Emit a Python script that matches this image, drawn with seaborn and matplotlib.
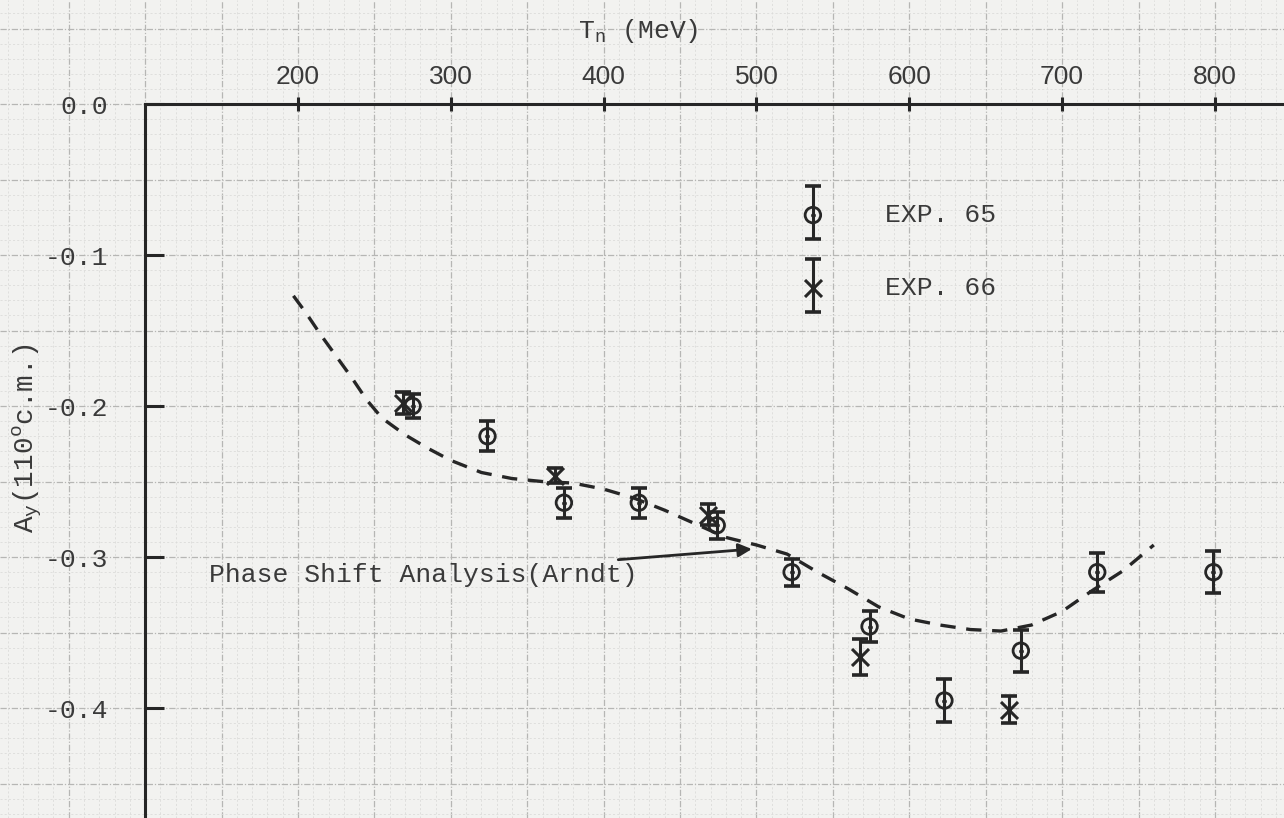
import matplotlib
matplotlib.use("Agg")
import matplotlib.pyplot as plt
import seaborn as sns
from matplotlib.ticker import MultipleLocator
from matplotlib.container import ErrorbarContainer
from matplotlib.legend_handler import HandlerErrorbar

# ---------------- data ----------------
exp65_T = [275, 324, 374, 423, 474, 523, 574, 623, 673, 723, 799]
exp65_A = [-0.200, -0.220, -0.264, -0.264, -0.279, -0.310, -0.346, -0.395, -0.362, -0.310, -0.310]
exp65_err = [0.008, 0.010, 0.010, 0.010, 0.009, 0.009, 0.010, 0.014, 0.014, 0.013, 0.014]

exp66_T = [269, 368, 468, 568, 665]
exp66_A = [-0.198, -0.246, -0.272, -0.366, -0.401]
exp66_err = [0.007, 0.005, 0.007, 0.012, 0.009]

curve_T = [197, 205, 215, 225, 235, 245, 255, 270, 285, 300, 320, 340, 360, 380,
           400, 420, 440, 460, 480, 500, 520, 540, 560, 580, 600, 620, 640, 660,
           680, 700, 720, 740, 760]
curve_A = [-0.127, -0.138, -0.153, -0.167, -0.181, -0.196, -0.208, -0.219, -0.228,
           -0.236, -0.244, -0.248, -0.250, -0.251, -0.255, -0.261, -0.269, -0.278,
           -0.287, -0.292, -0.298, -0.310, -0.321, -0.333, -0.341, -0.345, -0.348,
           -0.349, -0.345, -0.336, -0.322, -0.309, -0.292]

x_ticks = [200, 300, 400, 500, 600, 700, 800]
x_tick_labels = ["200", "300", "400", "500", "600", "700", "800"]
y_ticks = [0.0, -0.1, -0.2, -0.3, -0.4]
y_tick_labels = ["0.0", "-0.1", "-0.2", "-0.3", "-0.4"]
legend_labels = ["EXP. 65", "EXP. 66"]
curve_label = "Phase Shift Analysis(Arndt)"

# ---------------- style ----------------
sns.set_theme(style="white")
plt.rcParams['font.family'] = ['Liberation Mono', 'DejaVu Sans']
plt.rcParams['mathtext.fontset'] = 'custom'
plt.rcParams['mathtext.rm'] = 'Liberation Mono'
plt.rcParams['mathtext.it'] = 'Liberation Mono'
plt.rcParams['axes.unicode_minus'] = False

INK = '#262626'
TEXT = '#3a3a3a'
PAPER = '#f2f2f0'

XLIM = (5.0, 845.2)
YLIM = (-0.4728, 0.0689)

fig = plt.figure(figsize=(12.84, 8.18), dpi=100)
fig.patch.set_facecolor(PAPER)

# graph-paper background
paper = fig.add_axes([0, 0, 1, 1])
paper.set_xlim(XLIM)
paper.set_ylim(YLIM)
paper.set_facecolor(PAPER)
paper.xaxis.set_major_locator(MultipleLocator(50))
paper.xaxis.set_minor_locator(MultipleLocator(10))
paper.yaxis.set_major_locator(MultipleLocator(0.05))
paper.yaxis.set_minor_locator(MultipleLocator(0.01))
paper.grid(which='minor', color='#dcdcda', lw=0.6, ls=(0, (2.5, 2.5)))
paper.grid(which='major', color='#b6b6b4', lw=0.9, ls=(0, (5, 1.5, 1, 1.5)))
paper.tick_params(which='both', length=0, labelbottom=False, labelleft=False)
for s in paper.spines.values():
    s.set_visible(False)

# main axes
ax = fig.add_axes([0, 0, 1, 1])
ax.patch.set_alpha(0)

# dashed phase-shift curve
sns.lineplot(x=curve_T, y=curve_A, ax=ax, color=INK, lw=2.4,
             linestyle=(0, (4.6, 3.2)), estimator=None, sort=True)

# error bars
eb65 = ax.errorbar(exp65_T, exp65_A, yerr=exp65_err, fmt='none', ecolor=INK,
                   elinewidth=2.2, capsize=6, capthick=2.6)
eb66 = ax.errorbar(exp66_T, exp66_A, yerr=exp66_err, fmt='none', ecolor=INK,
                   elinewidth=2.2, capsize=6, capthick=2.6)

# markers
sns.scatterplot(x=exp65_T, y=exp65_A, ax=ax, marker='o', s=125,
                facecolor='none', edgecolor=INK, linewidth=2.0, zorder=3)
sc65 = ax.collections[-1]
sns.scatterplot(x=exp65_T, y=exp65_A, ax=ax, marker='o', s=8,
                color=INK, edgecolor=INK, linewidth=0.5, zorder=3)
sc65d = ax.collections[-1]
sns.scatterplot(x=exp66_T, y=exp66_A, ax=ax, marker='x', s=150,
                color=INK, linewidth=2.2, zorder=3)
sc66 = ax.collections[-1]

ax.set_xlim(XLIM)
ax.set_ylim(YLIM)

# axes lines through (100, 0)
for side in ('bottom', 'right'):
    ax.spines[side].set_visible(False)
ax.spines['top'].set_position(('data', 0.0))
ax.spines['top'].set_bounds(100, XLIM[1])
ax.spines['left'].set_position(('data', 100))
ax.spines['left'].set_bounds(YLIM[0], 0.0)
for side in ('top', 'left'):
    ax.spines[side].set_linewidth(2.2)
    ax.spines[side].set_color(INK)
    ax.spines[side].set_visible(True)

ax.xaxis.tick_top()
ax.set_xticks(x_ticks, x_tick_labels, fontfamily='Liberation Sans')
ax.tick_params(axis='x', direction='inout', length=10, width=2.2, pad=6.0,
               labelsize=19, labelcolor=TEXT, color=INK)
ax.set_yticks(y_ticks, y_tick_labels, fontfamily='Liberation Mono')
ax.tick_params(axis='y', direction='in', length=14, width=2.2, pad=26.6,
               labelsize=19, labelcolor=TEXT, color=INK, left=True)
ax.grid(False)

# axis labels
ax.set_xlabel('T$_{\\mathrm{n}}$ (MeV)', fontsize=19, color=TEXT)
ax.xaxis.set_label_position('top')
ax.xaxis.set_label_coords(638 / 1284, 1 - 38 / 818)
ax.set_ylabel('A$_{\\mathrm{y}}$(110$^{\\mathrm{o}}$c.m.)', fontsize=20, color=TEXT)
ax.yaxis.set_label_coords(44 / 1284, 1 - 438 / 818)

# annotation for the curve
ax.annotate(curve_label, xy=(497, -0.2947), xytext=(141.8, -0.312),
            ha='left', va='center', fontsize=19, color=TEXT,
            arrowprops=dict(arrowstyle='-|>', color=INK, lw=2.0,
                            mutation_scale=20, shrinkA=2, shrinkB=0))

# legend
ax.legend([(eb65, sc65, sc65d), (eb66, sc66)], legend_labels,
          handler_map={ErrorbarContainer: HandlerErrorbar(yerr_size=1.0)},
          loc='upper left', bbox_to_anchor=(786.5 / 1284, 1 - 203 / 818),
          frameon=False, borderpad=0, borderaxespad=0, handlelength=2,
          handletextpad=1.72, labelspacing=1.86, fontsize=19,
          labelcolor=TEXT, scatterpoints=1, numpoints=1)

fig.savefig('out.png', dpi=100, facecolor=PAPER)
